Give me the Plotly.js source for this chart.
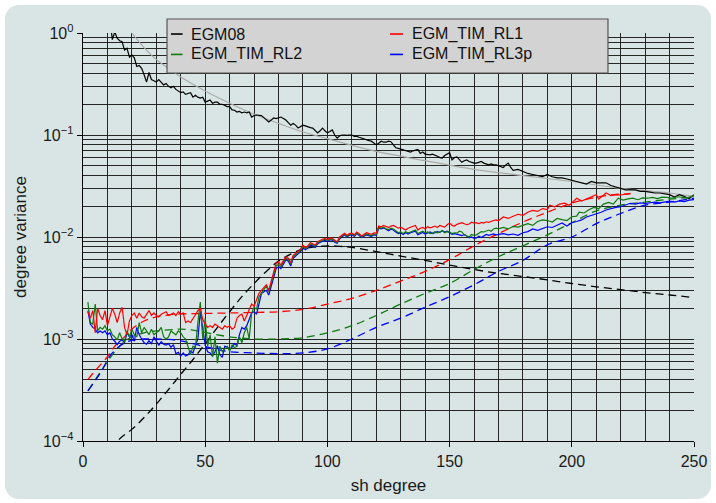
<!DOCTYPE html>
<html><head><meta charset="utf-8">
<script src="https://cdn.plot.ly/plotly-3.0.1.min.js"></script>
<style>
html,body{margin:0;padding:0;background:#fff;}
#bg{position:absolute;left:5px;top:5px;width:706px;height:494px;border-radius:14px;background:#d9e5e4;}
#chart{position:absolute;left:0;top:0;width:716px;height:503px;}
</style></head><body>
<div id="bg"></div><div id="chart"></div>
<script>
// ---------- data ----------
const seriesNames = ['EGM08', 'EGM_TIM_RL1', 'EGM_TIM_RL2', 'EGM_TIM_RL3p'];
const xTickVals = [0, 50, 100, 150, 200, 250];
const yTickVals = [1e-4, 1e-3, 1e-2, 1e-1, 1];
const yTickText = ['10<sup>\u22124</sup>', '10<sup>\u22123</sup>', '10<sup>\u22122</sup>', '10<sup>\u22121</sup>', '10<sup>0</sup>'];

// dense degrees for the three GOCE-based models (2..170)
const degDense = [2,3,4,5,6,7,8,9,10,11,12,13,14,15,16,17,18,19,20,21,22,23,24,25,26,27,28,29,30,
31,32,33,34,35,36,37,38,39,40,41,42,43,44,45,46,47,48,49,50,51,52,53,54,55,56,57,58,59,60,
61,62,63,64,65,66,67,68,69,70,71,72,73,74,75,76,77,78,79,80,81,82,83,84,85,86,87,88,89,90,
91,92,93,94,95,96,97,98,99,100,101,102,103,104,105,106,107,108,109,110,111,112,113,114,115,116,117,118,119,120,
121,122,123,124,125,126,127,128,129,130,131,132,133,134,135,136,137,138,139,140,141,142,143,144,145,146,147,148,149,150,
151,152,153,154,155,156,157,158,159,160,161,162,163,164,165,166,167,168,169,170];

const rl1Dense = [1.84e-3,1.6e-3,1.9e-3,1.15e-3,2.0e-3,1.7e-3,1.55e-3,1.9e-3,1.35e-3,
1.7e-3,2.0e-3,1.75e-3,1.45e-3,1.8e-3,2.05e-3,1.3e-3,1.1e-3,1.5e-3,1.7e-3,
1.8e-3,1.6e-3,1.8e-3,1.65e-3,1.6e-3,1.75e-3,1.9e-3,1.7e-3,1.8e-3,1.7e-3,
1.65e-3,1.75e-3,1.8e-3,1.85e-3,1.7e-3,1.75e-3,1.8e-3,1.7e-3,1.85e-3,1.75e-3,
1.8e-3,1.45e-3,1.5e-3,1.45e-3,1.6e-3,1.75e-3,1.9e-3,2.0e-3,1.55e-3,1.4e-3,
1.3e-3,1.35e-3,1.3e-3,1.4e-3,1.35e-3,1.3e-3,1.25e-3,1.35e-3,1.3e-3,1.35e-3,
1.25e-3,1.3e-3,1.6e-3,1.7e-3,1.75e-3,1.5e-3,1.7e-3,1.9e-3,2.2e-3,2.1e-3,
2.4e-3,2.8e-3,3.0e-3,3.2e-3,3.4e-3,3.0e-3,3.7e-3,4.4e-3,5.5e-3,5.7e-3,
5.3e-3,5.9e-3,6.4e-3,6.2e-3,5.6e-3,6.6e-3,6.9e-3,7.3e-3,7.6e-3,8.3e-3,
7.9e-3,8.2e-3,8.8e-3,8.6e-3,8.3e-3,9.0e-3,9.3e-3,9.5e-3,9.7e-3,9.4e-3,
9.8e-3,9.7e-3,9.3e-3,9.0e-3,1.0e-2,1.04e-2,1.09e-2,1.04e-2,1.08e-2,1.09e-2,
1.05e-2,1.12e-2,1.08e-2,1.02e-2,1.06e-2,1.1e-2,1.08e-2,1.06e-2,1.1e-2,1.09e-2,
1.28e-2,1.26e-2,1.3e-2,1.27e-2,1.24e-2,1.28e-2,1.3e-2,1.26e-2,1.22e-2,1.25e-2,
1.2e-2,1.17e-2,1.22e-2,1.24e-2,1.27e-2,1.3e-2,1.17e-2,1.22e-2,1.24e-2,1.2e-2,
1.26e-2,1.23e-2,1.25e-2,1.28e-2,1.24e-2,1.3e-2,1.27e-2,1.25e-2,1.32e-2,1.37e-2,
1.3e-2,1.28e-2,1.33e-2,1.36e-2,1.38e-2,1.35e-2,1.32e-2,1.34e-2,1.4e-2,1.37e-2,
1.38e-2,1.35e-2,1.39e-2,1.37e-2,1.41e-2,1.39e-2,1.43e-2,1.45e-2,1.47e-2,1.45e-2];
const rl1TailDeg = [172,174,176,178,180,182,184,186,188,190,191,193,195,197,199,201,202,204,206,208,210,211,213,214,216,218,220,222,224];
const rl1TailVar = [1.57e-2,1.52e-2,1.6e-2,1.67e-2,1.63e-2,1.75e-2,1.82e-2,1.78e-2,1.9e-2,1.86e-2,
2.05e-2,1.98e-2,2.1e-2,2.15e-2,2.05e-2,2.3e-2,2.4e-2,2.25e-2,2.35e-2,2.5e-2,
2.6e-2,2.35e-2,2.6e-2,2.7e-2,2.55e-2,2.6e-2,2.58e-2,2.65e-2,2.68e-2];

const rl2Dense = [2.3e-3,1.45e-3,1.4e-3,2.2e-3,1.2e-3,1.3e-3,1.25e-3,1.35e-3,1.2e-3,
1.25e-3,1.1e-3,1.05e-3,9.8e-4,1.15e-3,1.0e-3,9.5e-4,1.2e-3,1.05e-3,1.25e-3,
1.1e-3,1.05e-3,1.45e-3,1.15e-3,1.3e-3,1.2e-3,1.1e-3,1.25e-3,1.1e-3,1.15e-3,
1.2e-3,1.3e-3,1.05e-3,1.0e-3,1.05e-3,1.2e-3,1.15e-3,1.1e-3,1.2e-3,1.15e-3,
1.05e-3,1.0e-3,8.4e-4,7.0e-4,8.5e-4,8.2e-4,1.45e-3,2.3e-3,1.0e-3,1.6e-3,
8.5e-4,1.1e-3,6.7e-4,1.05e-3,5.8e-4,8.5e-4,7.5e-4,8.0e-4,8.5e-4,7.6e-4,
8.8e-4,8.2e-4,8.5e-4,1.05e-3,9.2e-4,1.15e-3,1.3e-3,1.0e-3,1.8e-3,2.05e-3,
1.95e-3,2.6e-3,2.8e-3,3.0e-3,3.3e-3,2.9e-3,3.5e-3,4.2e-3,5.2e-3,5.4e-3,
5.1e-3,5.7e-3,6.2e-3,6.0e-3,5.4e-3,6.4e-3,6.7e-3,7.1e-3,7.4e-3,8.0e-3,
7.7e-3,8.0e-3,8.5e-3,8.4e-3,8.1e-3,8.8e-3,9.1e-3,9.3e-3,9.5e-3,9.2e-3,
9.6e-3,9.5e-3,9.1e-3,8.8e-3,9.8e-3,1.02e-2,1.07e-2,1.02e-2,1.06e-2,1.07e-2,
1.03e-2,1.1e-2,1.06e-2,1.0e-2,1.04e-2,1.07e-2,1.05e-2,1.03e-2,1.07e-2,1.06e-2,
1.24e-2,1.22e-2,1.25e-2,1.2e-2,1.18e-2,1.22e-2,1.2e-2,1.15e-2,1.1e-2,1.12e-2,
1.08e-2,1.13e-2,1.1e-2,1.12e-2,1.15e-2,1.17e-2,1.08e-2,1.12e-2,1.14e-2,1.1e-2,
1.12e-2,1.08e-2,1.09e-2,1.13e-2,1.1e-2,1.12e-2,1.15e-2,1.1e-2,1.13e-2,1.12e-2,
1.08e-2,1.1e-2,1.09e-2,1.14e-2,1.12e-2,1.05e-2,1.02e-2,1.0e-2,1.06e-2,1.04e-2,
1.05e-2,1.1e-2,1.13e-2,1.12e-2,1.15e-2,1.17e-2,1.14e-2,1.2e-2,1.22e-2,1.2e-2];
const rl2TailDeg = [172,174,176,178,180,182,184,186,188,190,192,194,196,198,200,202,203,205,207,209,211,213,215,217,219,221,223,225,227,229,231,233,235,237,239,241,243,245,247,249,250];
const rl2TailVar = [1.24e-2,1.2e-2,1.27e-2,1.25e-2,1.3e-2,1.35e-2,1.3e-2,1.42e-2,1.47e-2,1.45e-2,
1.4e-2,1.52e-2,1.48e-2,1.45e-2,1.58e-2,1.6e-2,1.75e-2,1.72e-2,1.85e-2,1.95e-2,
1.9e-2,2.1e-2,2.18e-2,2.1e-2,2.4e-2,2.3e-2,2.36e-2,2.4e-2,2.32e-2,2.42e-2,
2.4e-2,2.45e-2,2.38e-2,2.46e-2,2.45e-2,2.4e-2,2.48e-2,2.44e-2,2.42e-2,2.5e-2,2.55e-2];

const rl3Dense = [1.9e-3,1.4e-3,1.3e-3,1.25e-3,1.15e-3,1.2e-3,1.15e-3,1.2e-3,1.1e-3,
1.15e-3,1.0e-3,9.5e-4,8.8e-4,9.5e-4,9.8e-4,9.2e-4,1.15e-3,1.05e-3,1.1e-3,
9.5e-4,1.3e-3,1.1e-3,1.0e-3,9.2e-4,8.9e-4,9.6e-4,9.0e-4,1.05e-3,9.5e-4,
8.7e-4,9.4e-4,8.9e-4,8.7e-4,9.0e-4,8.3e-4,8.8e-4,7.2e-4,7.4e-4,6.8e-4,
7.3e-4,6.8e-4,7.0e-4,7.6e-4,7.3e-4,8.7e-4,1.0e-3,1.85e-3,1.3e-3,8.7e-4,
7.5e-4,7.3e-4,6.8e-4,7.5e-4,8.6e-4,7.0e-4,6.6e-4,8.5e-4,8.4e-4,7.8e-4,
8.3e-4,9.0e-4,8.6e-4,1.1e-3,1.3e-3,1.25e-3,1.35e-3,1.6e-3,1.8e-3,1.85e-3,
1.75e-3,2.2e-3,2.8e-3,2.9e-3,3.0e-3,2.7e-3,3.4e-3,4.0e-3,4.9e-3,5.1e-3,
4.9e-3,5.5e-3,6.0e-3,5.8e-3,5.2e-3,6.2e-3,6.5e-3,6.9e-3,7.2e-3,7.8e-3,
7.5e-3,7.8e-3,8.3e-3,8.2e-3,7.9e-3,8.6e-3,8.9e-3,9.1e-3,9.3e-3,9.0e-3,
9.4e-3,9.3e-3,8.9e-3,8.7e-3,9.6e-3,1.0e-2,1.05e-2,1.0e-2,1.04e-2,1.05e-2,
1.01e-2,1.08e-2,1.04e-2,9.9e-3,1.02e-2,1.05e-2,1.03e-2,1.01e-2,1.05e-2,1.04e-2,
1.22e-2,1.2e-2,1.23e-2,1.18e-2,1.15e-2,1.19e-2,1.17e-2,1.12e-2,1.08e-2,1.1e-2,
1.06e-2,1.1e-2,1.07e-2,1.1e-2,1.12e-2,1.14e-2,1.05e-2,1.09e-2,1.11e-2,1.07e-2,
1.1e-2,1.12e-2,1.08e-2,1.1e-2,1.13e-2,1.11e-2,1.15e-2,1.12e-2,1.14e-2,1.1e-2,
1.06e-2,1.08e-2,1.07e-2,1.05e-2,1.03e-2,1.06e-2,1.02e-2,9.8e-3,1.0e-2,9.7e-3,
9.8e-3,1.02e-2,9.9e-3,1.03e-2,1.06e-2,1.04e-2,1.05e-2,1.07e-2,1.05e-2,1.06e-2];
const rl3TailDeg = [172,174,176,178,180,182,184,186,188,190,192,194,196,198,200,202,204,206,208,210,212,214,216,218,220,222,224,226,228,230,232,234,236,238,240,242,244,246,248,250];
const rl3TailVar = [1.08e-2,1.05e-2,1.07e-2,1.04e-2,1.1e-2,1.13e-2,1.2e-2,1.16e-2,1.22e-2,1.26e-2,
1.24e-2,1.3e-2,1.37e-2,1.28e-2,1.38e-2,1.42e-2,1.47e-2,1.57e-2,1.62e-2,1.7e-2,
1.75e-2,1.84e-2,1.9e-2,1.95e-2,1.98e-2,2.05e-2,2.14e-2,2.1e-2,2.16e-2,2.13e-2,
2.18e-2,2.2e-2,2.16e-2,2.22e-2,2.25e-2,2.2e-2,2.26e-2,2.22e-2,2.3e-2,2.32e-2];

// EGM08 (solid black)
const egmDeg = [11,12,13,14,15,16,17,18,19,20,21,22,23,24,25,26,27,28,29,30,
31,32,33,34,35,36,37,38,39,40,41,42,43,44,45,46,47,48,49,50,51,52,53,54,55,56,57,58,59,60,
61,62,63,64,65,66,67,68,69,70,71,72,73,74,75,76,77,78,79,80,81,82,83,84,85,86,87,88,89,90,
91,92,93,94,95,96,97,98,99,100,101,102,103,104,105,106,107,108,109,110,111,112,113,114,115,116,117,118,119,120,
121,122,123,124,125,126,127,128,129,130,131,132,133,134,135,136,137,138,139,140,141,142,143,144,145,146,147,148,149,150,
151,152,153,154,155,156,157,158,159,160,161,162,163,164,165,166,167,168,169,170,171,172,173,174,175,176,
178,180,182,184,186,188,190,192,194,196,198,200,202,204,206,208,210,212,214,216,218,220,222,224,226,228,230,232,234,236,238,240,242,244,246,248,250];
const egmVar = [1.4,0.86,1.02,0.89,0.84,0.82,0.68,0.71,0.58,0.61,
0.57,0.47,0.48,0.45,0.39,0.33,0.41,0.35,0.34,0.33,
0.35,0.33,0.31,0.32,0.30,0.29,0.30,0.28,0.27,0.26,
0.265,0.25,0.255,0.26,0.235,0.245,0.235,0.23,0.235,0.21,
0.215,0.22,0.205,0.21,0.21,0.20,0.20,0.195,0.19,0.19,
0.176,0.175,0.168,0.17,0.165,0.168,0.165,0.168,0.15,0.155,
0.157,0.156,0.155,0.148,0.14,0.134,0.14,0.147,0.145,0.148,
0.15,0.145,0.14,0.132,0.125,0.13,0.125,0.117,0.12,0.125,
0.123,0.12,0.118,0.117,0.11,0.105,0.11,0.117,0.11,0.105,
0.108,0.112,0.1,0.093,0.098,0.1,0.1,0.099,0.1,0.1,
0.097,0.097,0.095,0.093,0.091,0.089,0.088,0.087,0.083,0.08,
0.083,0.087,0.085,0.085,0.087,0.086,0.08,0.075,0.074,0.073,
0.071,0.07,0.069,0.068,0.07,0.071,0.072,0.066,0.068,0.065,
0.064,0.064,0.065,0.064,0.062,0.06,0.0595,0.063,0.065,0.067,
0.057,0.06,0.061,0.058,0.054,0.056,0.057,0.055,0.054,0.053,
0.053,0.054,0.055,0.053,0.052,0.051,0.052,0.051,0.051,0.05,
0.049,0.048,0.051,0.053,0.048,0.045,
0.046,0.044,0.042,0.041,0.04,0.039,0.041,0.039,0.038,0.038,
0.037,0.036,0.035,0.034,0.033,0.035,0.034,0.034,0.034,0.032,
0.031,0.030,0.029,0.029,0.029,0.028,0.028,0.0275,0.027,0.027,
0.0265,0.026,0.0246,0.026,0.025,0.0237,0.026];

// smooth reference curve (grey)
const kaulaDeg = [15,20,25,30,35,40,50,60,70,80,90,100,120,140,160,180,200,220,240,250];
const kaulaVar = [1.5,1.0,0.72,0.55,0.45,0.37,0.27,0.205,0.16,0.13,0.107,0.092,0.069,0.056,0.046,0.04,0.035,0.030,0.027,0.025];

// error degree variances (dashed)
const errEgmDeg = [12,15,20,25,30,35,40,45,50,55,60,65,70,75,80,85,90,95,100,105,110,120,130,140,150,160,170,180,190,200,210,220,230,240,250];
const errEgmVar = [8e-5,1.05e-4,1.3e-4,1.7e-4,2.3e-4,3.2e-4,4.5e-4,6.3e-4,9.0e-4,1.3e-3,1.85e-3,2.6e-3,3.5e-3,4.6e-3,5.8e-3,6.8e-3,7.6e-3,8.0e-3,8.2e-3,8.1e-3,7.9e-3,7.2e-3,6.5e-3,5.9e-3,5.3e-3,4.8e-3,4.4e-3,4.1e-3,3.8e-3,3.5e-3,3.25e-3,3.05e-3,2.85e-3,2.7e-3,2.55e-3];
const errRl1Deg = [2,5,10,13,17,20,25,30,35,40,50,60,70,80,90,100,110,120,130,140,150,160,170,180,190,200,210,217,224];
const errRl1Var = [4.0e-4,4.9e-4,6.7e-4,8.5e-4,1.05e-3,1.25e-3,1.5e-3,1.65e-3,1.72e-3,1.76e-3,1.78e-3,1.8e-3,1.82e-3,1.85e-3,1.95e-3,2.2e-3,2.5e-3,3.0e-3,3.7e-3,4.6e-3,6.0e-3,8.2e-3,1.08e-2,1.4e-2,1.75e-2,2.15e-2,2.45e-2,2.6e-2,2.65e-2];
const errRl2Deg = [2,7,12,16,20,25,30,35,40,45,50,55,60,70,80,90,100,110,120,130,140,150,160,170,180,190,200,210,220,230,240,250];
const errRl2Var = [3.1e-4,4.7e-4,7.0e-4,9.0e-4,1.05e-3,1.15e-3,1.2e-3,1.23e-3,1.25e-3,1.22e-3,1.16e-3,1.1e-3,1.05e-3,1.0e-3,1.0e-3,1.03e-3,1.15e-3,1.35e-3,1.7e-3,2.2e-3,2.8e-3,3.5e-3,4.8e-3,6.4e-3,8.2e-3,1.05e-2,1.38e-2,1.8e-2,2.05e-2,2.2e-2,2.35e-2,2.45e-2];
const errRl3Deg = [2,7,12,18,25,30,35,40,45,50,55,60,70,80,90,100,110,120,130,140,150,160,170,180,190,200,210,220,230,240,250];
const errRl3Var = [3.1e-4,4.6e-4,7.3e-4,9.4e-4,1.0e-3,1.0e-3,9.9e-4,9.6e-4,9.0e-4,8.4e-4,7.9e-4,7.5e-4,7.3e-4,7.2e-4,7.3e-4,8.0e-4,1.0e-3,1.3e-3,1.6e-3,2.05e-3,2.6e-3,3.4e-3,4.6e-3,5.9e-3,8.4e-3,1.0e-2,1.35e-2,1.7e-2,2.05e-2,2.2e-2,2.4e-2];

// ---------- styling ----------
const C = {egm:'#000000', rl1:'#ff0000', rl2:'#0f7a0f', rl3:'#0000ff', kaula:'#aaaaaa'};
const dashPat = '8px,5px';
function line(x, y, color, name, dashed, w) {
  return {x: x, y: y, type: 'scatter', mode: 'lines', name: name, hoverinfo: 'skip',
    line: {color: color, width: w || 1.2, dash: dashed ? dashPat : 'solid', shape: dashed ? 'spline' : 'linear'}};
}
const traces = [
  {x: kaulaDeg, y: kaulaVar, type: 'scatter', mode: 'lines', name: 'Kaula', hoverinfo: 'skip',
    line: {color: C.kaula, width: 1.2, shape: 'spline'}},
  line(egmDeg, egmVar, C.egm, seriesNames[0]),
  line(errEgmDeg, errEgmVar, C.egm, seriesNames[0] + ' error', true, 1.3),
  line(errRl1Deg, errRl1Var, C.rl1, seriesNames[1] + ' error', true, 1.3),
  line(errRl2Deg, errRl2Var, C.rl2, seriesNames[2] + ' error', true, 1.3),
  line(errRl3Deg, errRl3Var, C.rl3, seriesNames[3] + ' error', true, 1.3),
  line(degDense.concat(rl3TailDeg), rl3Dense.concat(rl3TailVar), C.rl3, seriesNames[3]),
  line(degDense.concat(rl2TailDeg), rl2Dense.concat(rl2TailVar), C.rl2, seriesNames[2]),
  line(degDense.concat(rl1TailDeg), rl1Dense.concat(rl1TailVar), C.rl1, seriesNames[1])
];

// manual legend (paper coords)
const L = {x0: 0.1375, x1: 0.8592, y0: 0.902, y1: 1.0343};
const legendItems = [
  {name: seriesNames[0], color: C.egm, col: 0, row: 0},
  {name: seriesNames[1], color: C.rl1, col: 1, row: 0},
  {name: seriesNames[2], color: C.rl2, col: 0, row: 1},
  {name: seriesNames[3], color: C.rl3, col: 1, row: 1}
];
const colDash = [[0.144, 0.163], [0.5025, 0.5237]];
const colText = [0.1735, 0.535];
const rowY = [0.9975, 0.9475];
const shapes = [{type: 'rect', xref: 'paper', yref: 'paper', x0: L.x0, x1: L.x1, y0: L.y0, y1: L.y1,
  fillcolor: '#d3d3d3', line: {color: '#555555', width: 1.2}, layer: 'above'}];
const annotations = [];
legendItems.forEach(it => {
  shapes.push({type: 'line', xref: 'paper', yref: 'paper', x0: colDash[it.col][0], x1: colDash[it.col][1],
    y0: rowY[it.row], y1: rowY[it.row], line: {color: it.color, width: 1.6}, layer: 'above'});
  annotations.push({xref: 'paper', yref: 'paper', x: colText[it.col], y: rowY[it.row], text: it.name,
    showarrow: false, xanchor: 'left', yanchor: 'middle', font: {size: 16, color: '#111'}});
});

const gridC = '#262626';
const layout = {
  width: 716, height: 503,
  margin: {l: 83, r: 22, t: 33, b: 62},
  paper_bgcolor: 'rgba(0,0,0,0)', plot_bgcolor: 'rgba(0,0,0,0)',
  font: {family: 'Liberation Sans, Arial, Helvetica, sans-serif', size: 16, color: '#1a1a1a'},
  showlegend: false,
  xaxis: {range: [0, 250], tickmode: 'array', tickvals: xTickVals, tickfont: {size: 16},
    showgrid: true, gridcolor: gridC, gridwidth: 1,
    showline: true, linecolor: '#000', linewidth: 1.3, ticks: 'outside', ticklen: 5, tickcolor: '#000', zeroline: false,
    minor: {dtick: 10, tick0: 0, showgrid: true, gridcolor: gridC, gridwidth: 1, ticks: ''},
    title: {text: 'sh degree', font: {size: 17}, standoff: 10}, automargin: false},
  yaxis: {type: 'log', range: [-4, 0], tickmode: 'array', tickvals: yTickVals, ticktext: yTickText, tickfont: {size: 16},
    showgrid: true, gridcolor: gridC, gridwidth: 1, showline: true, linecolor: '#000', linewidth: 1.3,
    ticks: 'outside', ticklen: 5, tickcolor: '#000', zeroline: false,
    minor: {dtick: 'D1', showgrid: true, gridcolor: gridC, gridwidth: 1, ticks: ''},
    title: {text: 'degree variance', font: {size: 17}, standoff: 12}, automargin: false},
  shapes: shapes,
  annotations: annotations
};
Plotly.newPlot('chart', traces, layout, {staticPlot: true, displayModeBar: false});
</script></body></html>
